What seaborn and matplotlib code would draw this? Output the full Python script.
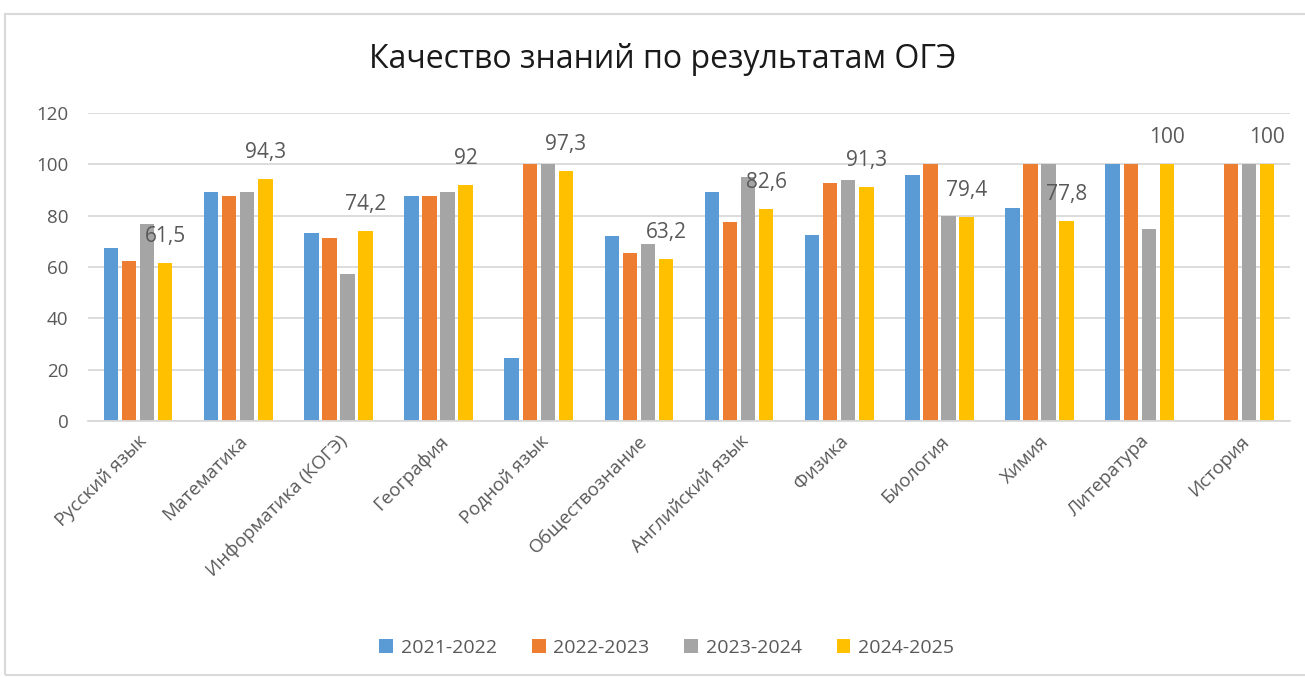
import numpy as np
import pandas as pd
import matplotlib
matplotlib.use("Agg")
import matplotlib.pyplot as plt
from matplotlib.patches import Rectangle
import seaborn as sns

subjects = ["Русский язык", "Математика", "Информатика (КОГЭ)", "География",
            "Родной язык", "Обществознание", "Английский язык", "Физика",
            "Биология", "Химия", "Литература", "История"]
years = ["2021-2022", "2022-2023", "2023-2024", "2024-2025"]
v2021 = [67.3, 89.3, 73.4, 87.7, 24.7, 71.9, 89.3, 72.6, 95.9, 82.9, 100, np.nan]
v2022 = [62.5, 87.5, 71.3, 87.5, 100, 65.6, 77.4, 92.9, 100, 100, 100, 100]
v2023 = [76.7, 89.3, 57.4, 89.3, 100, 69.0, 95.2, 93.8, 79.8, 100, 75.0, 100]
v2024 = [61.5, 94.3, 74.2, 92, 97.3, 63.2, 82.6, 91.3, 79.4, 77.8, 100, 100]
colors = ["#5B9BD5", "#ED7D31", "#A5A5A5", "#FFC000"]

series = [v2021, v2022, v2023, v2024]
rows = []
for y, vals in zip(years, series):
    for s, v in zip(subjects, vals):
        rows.append({"subject": s, "year": y, "value": v})
df = pd.DataFrame(rows)

sns.set_theme(style="white")
plt.rcParams["font.family"] = ["Open Sans", "DejaVu Sans"]
txt = "#595959"

fig = plt.figure(figsize=(13.05, 6.78), dpi=100)
fig.patches.append(Rectangle((5 / 1305, 3 / 678), 1.0, 1 - 17 / 678,
                             transform=fig.transFigure, fill=False,
                             edgecolor="#D9D9D9", linewidth=1.5))
ax = fig.add_axes([88 / 1305, 1 - 421 / 678, (1290 - 88) / 1305, (421 - 113) / 678])

sns.barplot(data=df, x="subject", y="value", hue="year", hue_order=years,
            order=subjects, palette=colors, width=0.72, gap=0.2,
            saturation=1, errorbar=None, ax=ax, legend=True, linewidth=0)

ax.set_ylim(0, 120)
ax.set_yticks(range(0, 121, 20))
ax.set_xlim(-0.5, len(subjects) - 0.5)
ax.yaxis.grid(True, color="#D9D9D9", linewidth=1.3)
ax.set_axisbelow(True)
for sp in ["top", "right", "left"]:
    ax.spines[sp].set_visible(False)
ax.spines["bottom"].set_color("#D9D9D9")
ax.spines["bottom"].set_linewidth(1.3)
ax.set_xlabel("")
ax.set_ylabel("")
ax.tick_params(axis="both", length=0, colors=txt, labelsize=13.5)
ax.tick_params(axis="y", pad=14)
plt.setp(ax.get_xticklabels(), rotation=45, ha="right", rotation_mode="anchor")
ax.tick_params(axis="x", pad=8)

# data labels on the last series
cont = ax.containers[3]
for bar, v in zip(cont, v2024):
    lab = f"{v:g}".replace(".", ",")
    ax.annotate(lab, (bar.get_x() + bar.get_width() / 2, bar.get_height()),
                xytext=(0, 19), textcoords="offset points", ha="center",
                va="center", fontsize=15, color=txt)

handles, labels = ax.get_legend_handles_labels()
ax.legend_.remove()
fig.legend(handles, labels, loc="center", bbox_to_anchor=(0.511, 1 - 648 / 678),
           ncol=4, frameon=False, handlelength=0.7, handleheight=0.7,
           columnspacing=1.8, handletextpad=0.4, fontsize=14, labelcolor=txt)

fig.text(0.508, 1 - 60 / 678, "Качество знаний по результатам ОГЭ", ha="center",
         va="center", fontsize=23, color="#1a1a1a")

fig.savefig("out.png", dpi=100, facecolor="white")
